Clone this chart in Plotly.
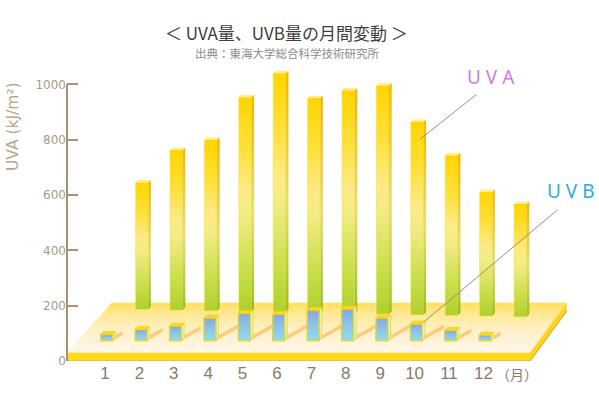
import plotly.graph_objects as go

# ---------------- data ----------------
months = list(range(1, 13))
month_labels = [str(m) for m in months]
uva = [654, 771, 808, 962, 1049, 959, 987, 1004, 873, 752, 620, 576]   # kJ/m2 (read on axis)
uvb = [33, 51, 63, 93, 110, 106, 121, 125, 93, 71, 48, 31]            # bar heights, same scale
y_ticks = [0, 200, 400, 600, 800, 1000]

title_text = "＜ UVA量、UVB量の月間変動 ＞"
source_text = "出典：東海大学総合科学技術研究所"
y_title = "UVA (kJ/m²)"

# ---------------- geometry helpers ----------------
W, H = 599, 398
ML, MR, MT, MB = 67, 0, 0, 37
PW, PH = W - ML - MR, H - MT - MB
PX_PER_MONTH = 34.4
PX_PER_UNIT = 0.2767
FIRST_PX = 105  # pixel x of month 1

x_lo = 1 - (FIRST_PX - ML) / PX_PER_MONTH
x_hi = x_lo + PW / PX_PER_MONTH
y_lo, y_hi = 0, PH / PX_PER_UNIT


def dx(px):
    return px / PX_PER_MONTH


def dy(px):
    return px / PX_PER_UNIT


def X(px):  # absolute pixel x -> data x
    return x_lo + (px - ML) / PX_PER_MONTH


def Y(py):  # absolute pixel y -> data y
    return (MT + PH - py) / PX_PER_UNIT


def xp(px):
    return (px - ML) / PW


def yp(py):
    return (MT + PH - py) / PH


fig = go.Figure()


def poly(xs, ys, color=None, grad=None, line_color=None, line_width=0):
    kw = dict(x=xs + [xs[0]], y=ys + [ys[0]], mode="lines", fill="toself",
              hoverinfo="skip", showlegend=False,
              line=dict(width=line_width, color=line_color or "rgba(0,0,0,0)"))
    if grad is not None:
        kw["fillgradient"] = dict(type="vertical", colorscale=grad)
        kw["fillcolor"] = grad[-1][1]
    else:
        kw["fillcolor"] = color
    fig.add_trace(go.Scatter(**kw))


# ---------------- platform ----------------
fy, by = 352.7, 302.7
fl, fr, br, bl = 66.7, 530, 566.7, 111.7
poly([X(fl), X(fr), X(br), X(bl)], [Y(fy), Y(fy), Y(by), Y(by)],
     grad=[[0, "#FFF7EA"], [0.45, "#FFF0C8"], [0.8, "#FFE890"], [1, "#FFDF5A"]])
poly([X(fr), X(br), X(br), X(fr)], [Y(fy), Y(by), Y(by + 8.5), Y(361)], color="#FFD21C")
poly([X(fl), X(fr), X(fr), X(fl)], [Y(fy), Y(fy), Y(361), Y(361)], color="#FFDB1C")
fig.add_trace(go.Scatter(x=[X(fl), X(fr), X(br)], y=[Y(361), Y(361), Y(by + 8.5)], mode="lines",
                         line=dict(color="#D9B43A", width=1.2), hoverinfo="skip", showlegend=False))

# ---------------- UVB shadows ----------------
uvb_base = Y(340.7)
for i, m in enumerate(months):
    h_px = uvb[i] * PX_PER_UNIT
    xr = m + dx(112.7 - FIRST_PX)
    xs = [xr, xr + dx(h_px * 1.1), xr + dx(h_px * 1.1), xr]
    ys = [uvb_base, uvb_base + dy(0.62 * h_px), uvb_base + dy(0.62 * h_px + 4), uvb_base + dy(4)]
    poly(xs, ys, color="rgba(255,190,90,0.75)")

# ---------------- UVA bars (back row) ----------------
uva_front = [[0, "#AFD02E"], [0.2, "#CADF4C"], [0.45, "#F2EC84"], [0.56, "#FDEB88"],
             [0.76, "#FFE03A"], [1, "#FFD500"]]
uva_side = [[0, "#96C020"], [0.45, "#E8DC70"], [1, "#F2B800"]]
for i, m in enumerate(months):
    xl = m + dx(135.7 - FIRST_PX)
    xr = m + dx(148.3 - FIRST_PX)
    sd = dx(2.6)
    dep = dy(2.4)
    base = Y(309.3 + 0.67 * i)
    top = uva[i]
    ftop = top - dep
    poly([xl, xr, xr, xl], [base, base, ftop, ftop], grad=uva_front,
         line_color="rgba(255,214,0,0.55)", line_width=0.8)
    poly([xr, xr + sd, xr + sd, xr], [base, base + dep, top, ftop], grad=uva_side)
    poly([xl, xr, xr + sd, xl + sd], [ftop, ftop, top, top], color="#FFEC8C")

# ---------------- UVB bars (front row) ----------------
uvb_front = [[0, "#93DBEA"], [0.5, "#8FC4E6"], [1, "#88A6E0"]]
for i, m in enumerate(months):
    xl = m + dx(100.7 - FIRST_PX)
    xr = m + dx(112.7 - FIRST_PX)
    sd = dx(2.6)
    dep = dy(3)
    base = uvb_base
    top = uvb_base + uvb[i]
    ftop = top - dep
    poly([xr, xr + sd, xr + sd, xr], [base, base + dep, top, ftop],
         grad=[[0, "#E8F0B0"], [1, "#FFF3B0"]], line_color="#D6D84A", line_width=0.8)
    poly([xl, xr, xr, xl], [base, base, ftop, ftop], grad=uvb_front,
         line_color="#D8DA3E", line_width=1.4)
    poly([xl, xr, xr + sd, xl + sd], [ftop, ftop, top, top], color="#FFD81E",
         line_color="#F2CE10", line_width=0.6)

# ---------------- leader lines ----------------
uva_pt = (9 + dx(141.5 - FIRST_PX) + dx(3), uva[8] - dy(20))
uvb_pt = (10 + dx(112.7 - FIRST_PX) + dx(1.5), uvb_base + uvb[9] - dy(1))
fig.add_trace(go.Scatter(x=[uva_pt[0], X(476.7)], y=[uva_pt[1], Y(94.3)], mode="lines",
                         line=dict(color="#A08C72", width=1), hoverinfo="skip", showlegend=False))
fig.add_trace(go.Scatter(x=[uvb_pt[0], X(557.3)], y=[uvb_pt[1], Y(210)], mode="lines",
                         line=dict(color="#A08C72", width=1), hoverinfo="skip", showlegend=False))

# ---------------- axis line (0..1000) ----------------
fig.add_shape(type="line", xref="paper", x0=0, x1=0, yref="y", y0=0, y1=y_ticks[-1],
              line=dict(color="#A8916F", width=2), layer="above")

# ---------------- texts ----------------
ann = []
ann.append(dict(text=title_text, x=xp(286), y=yp(32), xref="paper", yref="paper",
                showarrow=False, xanchor="center", yanchor="middle",
                font=dict(family="Noto Sans CJK JP", size=17, color="#3E3E3E")))
ann.append(dict(text=source_text, x=xp(287), y=yp(53), xref="paper", yref="paper",
                showarrow=False, xanchor="center", yanchor="middle",
                font=dict(family="Noto Sans CJK JP", size=11.5, color="#8A8A8A")))
ann.append(dict(text="U V A", x=xp(491), y=yp(77), xref="paper", yref="paper",
                showarrow=False, xanchor="center", yanchor="middle",
                font=dict(family="Noto Sans", size=19, color="#CC7EDC")))
ann.append(dict(text="U V B", x=xp(571), y=yp(190.7), xref="paper", yref="paper",
                showarrow=False, xanchor="center", yanchor="middle",
                font=dict(family="Noto Sans", size=19, color="#2FA9E2")))
ann.append(dict(text=y_title, x=xp(13), y=yp(127), xref="paper", yref="paper",
                showarrow=False, xanchor="center", yanchor="middle", textangle=-90,
                font=dict(family="DejaVu Sans", size=15.5, color="#B8A68E")))
ann.append(dict(text="（月）", x=xp(517), y=yp(374), xref="paper", yref="paper",
                showarrow=False, xanchor="center", yanchor="middle",
                font=dict(family="Noto Sans CJK JP", size=14, color="#8C7A66")))

fig.update_layout(
    width=W, height=H, autosize=False,
    margin=dict(l=ML, r=MR, t=MT, b=MB),
    paper_bgcolor="white", plot_bgcolor="white",
    annotations=ann,
    xaxis=dict(range=[x_lo, x_hi], tickvals=months, ticktext=month_labels,
               showgrid=False, zeroline=False, showline=False, ticks="",
               tickfont=dict(family="Liberation Sans", size=17, color="#8A7A68"),
               fixedrange=True),
    yaxis=dict(range=[y_lo, y_hi], tickvals=y_ticks, ticktext=[str(v) for v in y_ticks],
               showgrid=False, zeroline=False, showline=False,
               ticks="inside", ticklen=11, tickwidth=2, tickcolor="#A8916F",
               tickfont=dict(family="DejaVu Sans", size=12, color="#A89A88"),
               fixedrange=True),
)

fig.write_html("out.html", config={"displayModeBar": False},
               post_script="document.body.style.margin='0';")
